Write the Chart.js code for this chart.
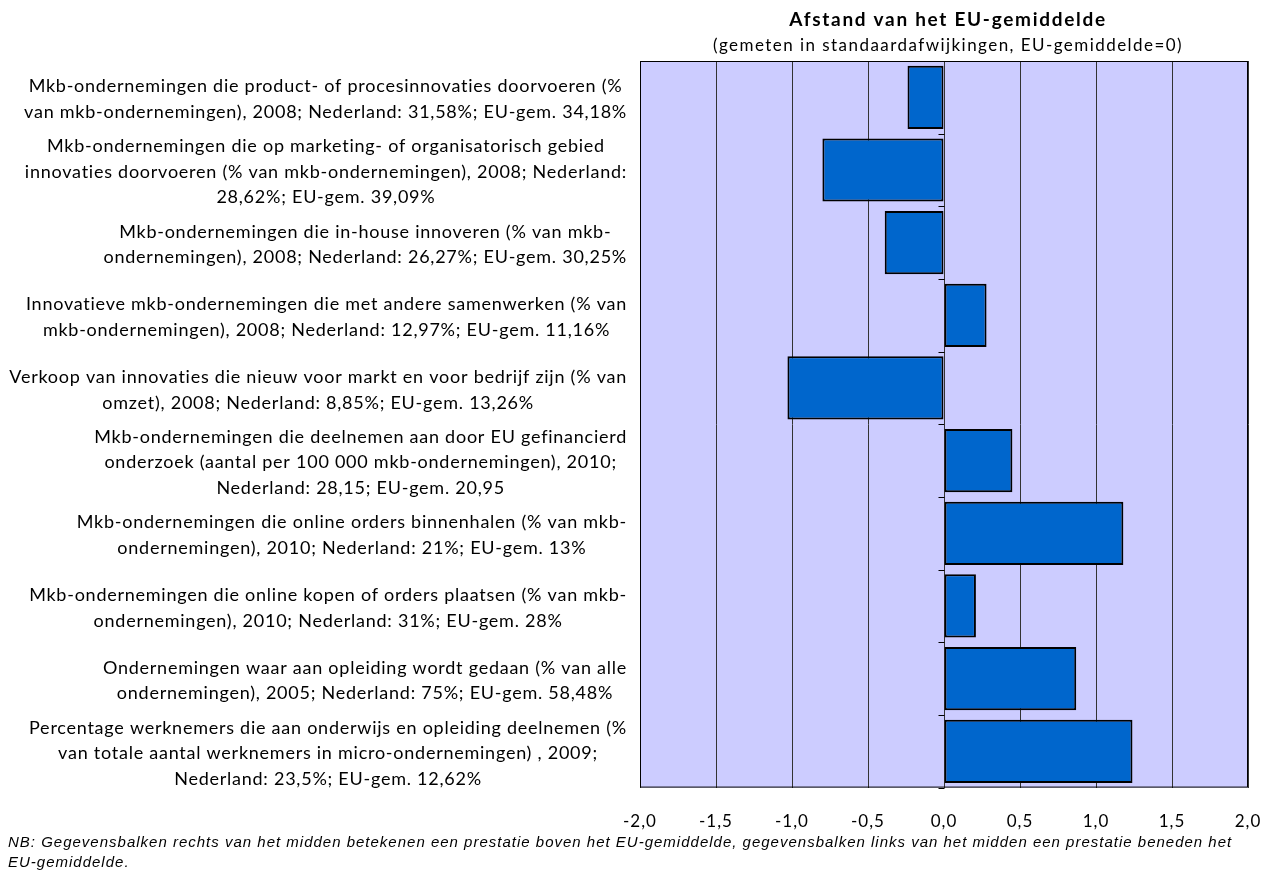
<!DOCTYPE html>
<html>
<head>
<meta charset="utf-8">
<script src="https://cdn.jsdelivr.net/npm/chart.js@4/dist/chart.umd.min.js"></script>
<style>
  html, body { margin: 0; padding: 0; background: #fff; }
  #wrap { width: 1269px; height: 875px; position: relative; }
</style>
</head>
<body>
<div id="wrap"><canvas id="chart"></canvas></div>
<script>
// categorieën (regels zoals in het origineel afgebroken)
const categories = [
  ["Mkb-ondernemingen die product- of procesinnovaties doorvoeren (%", "van mkb-ondernemingen), 2008; Nederland: 31,58%; EU-gem. 34,18%"],
  ["Mkb-ondernemingen die op marketing- of organisatorisch gebied", "innovaties doorvoeren (% van mkb-ondernemingen), 2008; Nederland:", "28,62%; EU-gem. 39,09%"],
  ["Mkb-ondernemingen die in-house innoveren (% van mkb-", "ondernemingen), 2008; Nederland: 26,27%; EU-gem. 30,25%"],
  ["Innovatieve mkb-ondernemingen die met andere samenwerken (% van", "mkb-ondernemingen), 2008; Nederland: 12,97%; EU-gem. 11,16%"],
  ["Verkoop van innovaties die nieuw voor markt en voor bedrijf zijn (% van", "omzet), 2008; Nederland: 8,85%; EU-gem. 13,26%"],
  ["Mkb-ondernemingen die deelnemen aan door EU gefinancierd", "onderzoek (aantal per 100 000 mkb-ondernemingen), 2010;", "Nederland: 28,15; EU-gem. 20,95"],
  ["Mkb-ondernemingen die online orders binnenhalen (% van mkb-", "ondernemingen), 2010; Nederland: 21%; EU-gem. 13%"],
  ["Mkb-ondernemingen die online kopen of orders plaatsen (% van mkb-", "ondernemingen), 2010; Nederland: 31%; EU-gem. 28%"],
  ["Ondernemingen waar aan opleiding wordt gedaan (% van alle", "ondernemingen), 2005; Nederland: 75%; EU-gem. 58,48%"],
  ["Percentage werknemers die aan onderwijs en opleiding deelnemen (%", "van totale aantal werknemers in micro-ondernemingen) , 2009;", "Nederland: 23,5%; EU-gem. 12,62%"]
]

// afstand van het EU-gemiddelde in standaardafwijkingen
const afstand = [-0.24, -0.80, -0.39, 0.28, -1.03, 0.45, 1.18, 0.21, 0.87, 1.24]

const xMin = -2
const xMax = 2
const xStep = 0.5

const titel = "Afstand van het EU-gemiddelde"
const ondertitel = "(gemeten in standaardafwijkingen, EU-gemiddelde=0)"
const voetnoot = [
  "NB: Gegevensbalken rechts van het midden betekenen een prestatie boven het EU-gemiddelde, gegevensbalken links van het midden een prestatie beneden het",
  "EU-gemiddelde."
]

const fam = "Lato, 'Open Sans', sans-serif"

// plugin: achtergrond, titels, kader, labels links, streepjes op de nullijn en voetnoot
const extras = {
  id: "extras",
  beforeDraw(chart) {
    const { ctx, chartArea: a } = chart
    ctx.fillStyle = "#CCCCFF"
    ctx.fillRect(a.left, a.top, a.right - a.left, a.bottom - a.top)
    // iets ruimere letters voor de aslabels
    ctx.letterSpacing = "1px"
  },
  afterDraw(chart) {
    const { ctx, chartArea: a } = chart
    const x = chart.scales.x
    const y = chart.scales.y
    ctx.save()

    // kader
    ctx.strokeStyle = "#000"
    ctx.lineWidth = 1
    ctx.strokeRect(a.left + 0.5, a.top + 0.5, a.right - a.left - 1, a.bottom - a.top - 1)

    // streepjes op de categorie-as (bij 0)
    const x0 = Math.round(x.getPixelForValue(0)) + 0.5
    ctx.beginPath()
    for (let i = 0; i <= categories.length; i++) {
      const yy = Math.round(y.getPixelForValue(i - 0.5)) + 0.5
      ctx.moveTo(x0 - 6, yy)
      ctx.lineTo(x0, yy)
    }
    ctx.stroke()

    ctx.fillStyle = "#000"
    ctx.textAlign = "center"
    ctx.textBaseline = "middle"

    // titel en ondertitel, gecentreerd boven het plotgebied
    const mid = (a.left + a.right) / 2 + 4
    ctx.font = "bold 19px " + fam
    ctx.letterSpacing = "1.7px"
    ctx.fillText(titel, mid, 20)
    ctx.font = "17px " + fam
    ctx.letterSpacing = "1.45px"
    ctx.fillText(ondertitel, mid, 46)

    // categorielabels: blok rechts uitgelijnd, regels gecentreerd
    ctx.font = "18px " + fam
    ctx.letterSpacing = "0.75px"
    const lineH = 25.5
    const right = a.left - 13
    categories.forEach((lines, i) => {
      const maxW = Math.max(...lines.map((l) => ctx.measureText(l).width))
      const cx = right - maxW / 2
      const cy = y.getPixelForValue(i) + 2
      lines.forEach((l, j) => {
        ctx.fillText(l, cx, cy + (j - (lines.length - 1) / 2) * lineH)
      })
    })

    // voetnoot
    ctx.font = "italic 15px 'Liberation Sans', Arial, sans-serif"
    ctx.letterSpacing = "1px"
    ctx.textAlign = "left"
    voetnoot.forEach((l, j) => {
      ctx.fillText(l, 8, 843 + j * 20)
    })
    ctx.restore()
    ctx.letterSpacing = "0px"
  }
}

new Chart(document.getElementById("chart"), {
  type: "bar",
  data: {
    labels: categories,
    datasets: [
      {
        data: afstand,
        backgroundColor: "#0066CC",
        borderColor: "#000000",
        borderWidth: 2,
        borderSkipped: false,
        barPercentage: 0.87,
        categoryPercentage: 1.0,
      },
    ],
  },
  options: {
    indexAxis: "y",
    responsive: true,
    maintainAspectRatio: false,
    animation: false,
    layout: {
      padding: { left: 640, right: 21, top: 61, bottom: 43 },
    },
    plugins: {
      legend: { display: false },
      tooltip: { enabled: false },
      title: { display: false },
    },
    scales: {
      x: {
        type: "linear",
        min: xMin,
        max: xMax,
        ticks: {
          stepSize: xStep,
          color: "#000",
          padding: 0,
          font: { family: fam, size: 17 },
          callback: (v) => Number(v).toFixed(1).replace(".", ","),
        },
        grid: {
          color: "#333",
          lineWidth: 1,
          drawTicks: true,
          tickLength: 24,
          tickColor: "rgba(0,0,0,0)",
        },
        border: { display: false },
      },
      y: {
        type: "category",
        ticks: { display: false },
        grid: { display: false, drawTicks: false },
        border: { display: false },
      },
    },
  },
  plugins: [extras],
})
</script>
</body>
</html>
